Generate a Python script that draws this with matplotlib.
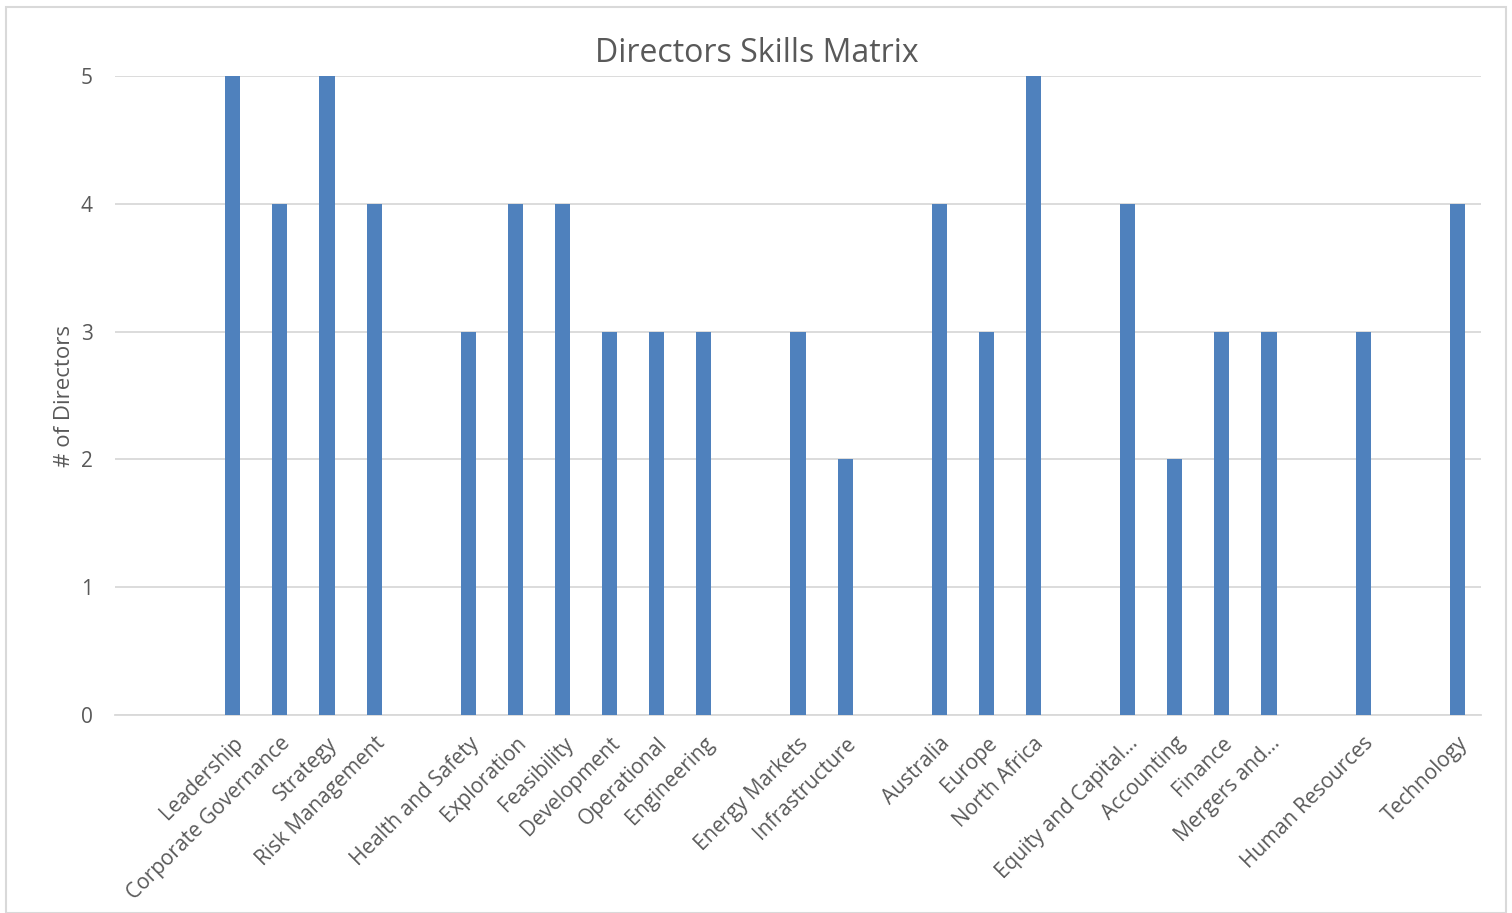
import matplotlib
matplotlib.use("Agg")
import matplotlib.pyplot as plt
from matplotlib.patches import Rectangle

plt.rcParams['font.family'] = ['Open Sans', 'DejaVu Sans']

categories = ["", "", "Leadership", "Corporate Governance", "Strategy", "Risk Management", "",
              "Health and Safety", "Exploration", "Feasibility", "Development", "Operational",
              "Engineering", "", "Energy Markets", "Infrastructure", "", "Australia", "Europe",
              "North Africa", "", "Equity and Capital...", "Accounting", "Finance", "Mergers and...",
              "", "Human Resources", "", "Technology"]
values = [0, 0, 5, 4, 5, 4, 0, 3, 4, 4, 3, 3, 3, 0, 3, 2, 0, 4, 3, 5, 0, 4, 2, 3, 3, 0, 3, 0, 4]
yticks = [0, 1, 2, 3, 4, 5]

W, H = 1512, 913
fig = plt.figure(figsize=(W / 100, H / 100), dpi=100)
fig.patches.append(Rectangle((6 / W, 0), 1500 / W, 1 - 7 / H, transform=fig.transFigure,
                             fill=False, edgecolor='#d9d9d9', linewidth=1.5))
ax = fig.add_axes([115 / W, 1 - 715 / H, (1481 - 115) / W, (715 - 76) / H])

x = list(range(len(categories)))
ax.bar(x, values, width=0.32, color='#4F81BD', zorder=3)
ax.set_xlim(-0.5, len(categories) - 0.5)
ax.set_ylim(0, 5)
ax.set_yticks(yticks)
ax.set_yticklabels([str(v) for v in yticks], fontsize=15, color='#595959')
ax.tick_params(axis='y', length=0, pad=16)
ax.tick_params(axis='x', length=0, pad=13)
ax.set_xticks(x)
ax.set_xticklabels(categories, rotation=45, ha='right', rotation_mode='anchor',
                   fontsize=15, color='#595959')
ax.grid(axis='y', color='#d9d9d9', linewidth=1.3, zorder=0)
for s in ['top', 'right', 'left']:
    ax.spines[s].set_visible(False)
ax.spines['bottom'].set_color('#d9d9d9')
ax.spines['bottom'].set_linewidth(1.3)

ax.set_ylabel('# of Directors', fontsize=16, color='#595959', labelpad=4)
fig.text(757 / W, 1 - 53 / H, 'Directors Skills Matrix', ha='center', va='center',
         fontsize=23, color='#595959')

fig.savefig('out.png', dpi=100)
